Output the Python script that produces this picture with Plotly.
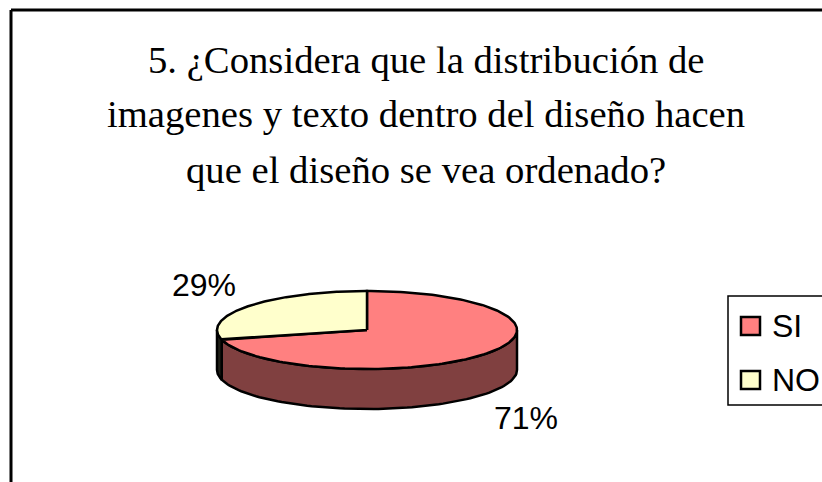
import numpy as np
import plotly.graph_objects as go

categories = ["SI", "NO"]
values = [71, 29]
top_colors = ["#FF8080", "#FFFFCC"]
side_colors = ["#804040", "#202018"]
title_lines = ["5. ¿Considera que la distribución de",
               "imagenes y texto dentro del diseño hacen",
               "que el diseño se vea ordenado?"]

CX, CY, RX, RY, DEPTH = 367, 330, 150, 39, 40
W, H = 822, 482


def pt(theta, dy=0):
    return CX + RX * np.sin(theta), CY - RY * np.cos(theta) + dy


fractions = np.array(values) / sum(values)
edges = np.concatenate([[0], np.cumsum(fractions)]) * 2 * np.pi

fig = go.Figure()

# sides: only the front half (pi/2 .. 3pi/2) of the rim is visible
for i in range(len(values)):
    a = max(edges[i], np.pi / 2)
    b = min(edges[i + 1], 3 * np.pi / 2)
    if b <= a:
        continue
    t = np.linspace(a, b, 90)
    x1, y1 = pt(t)
    x2, y2 = pt(t[::-1], DEPTH)
    fig.add_trace(go.Scatter(x=np.r_[x1, x2, x1[0]], y=np.r_[y1, y2, y1[0]],
                             mode="lines", fill="toself", fillcolor=side_colors[i],
                             line=dict(color="black", width=2.5), hoverinfo="skip",
                             showlegend=False))

# tops
for i, name in enumerate(categories):
    t = np.linspace(edges[i], edges[i + 1], 180)
    x, y = pt(t)
    fig.add_trace(go.Scatter(x=np.r_[CX, x, CX], y=np.r_[CY, y, CY],
                             mode="lines", fill="toself", fillcolor=top_colors[i],
                             line=dict(color="black", width=2.5), name=name,
                             showlegend=False))

annotations = []
for line, yy in zip(title_lines, [60, 114, 170]):
    annotations.append(dict(x=426, y=yy, text=line, showarrow=False, xanchor="center",
                            yanchor="middle",
                            font=dict(family="Liberation Serif", size=38.7, color="black")))
for val, (lx, ly) in zip(values, [(526, 418), (204, 285)]):
    annotations.append(dict(x=lx, y=ly, text=f"{val}%", showarrow=False,
                            font=dict(family="Liberation Sans", size=32, color="black")))

shapes = [
    dict(type="line", x0=11, y0=10, x1=822, y1=10, line=dict(color="black", width=3)),
    dict(type="line", x0=11, y0=10, x1=11, y1=482, line=dict(color="black", width=3)),
    dict(type="rect", x0=728, y0=296, x1=830, y1=405, line=dict(color="black", width=1.5),
         fillcolor="white"),
]
for name, color, yy in zip(categories, top_colors, [326, 380]):
    shapes.append(dict(type="rect", x0=741, y0=yy - 9, x1=760, y1=yy + 9,
                       line=dict(color="black", width=2.5), fillcolor=color))
    annotations.append(dict(x=770, y=yy, text=name, showarrow=False, xanchor="left",
                            font=dict(family="Liberation Sans", size=32, color="black")))

fig.update_layout(
    width=W, height=H, margin=dict(l=0, r=0, t=0, b=0),
    paper_bgcolor="white", plot_bgcolor="white", showlegend=False,
    xaxis=dict(range=[0, W], visible=False, fixedrange=True),
    yaxis=dict(range=[H, 0], visible=False, fixedrange=True),
    shapes=shapes, annotations=annotations,
)
fig.write_html("out.html", config={"displayModeBar": False},
               post_script="document.body.style.margin='0';document.body.style.overflow='hidden';")
